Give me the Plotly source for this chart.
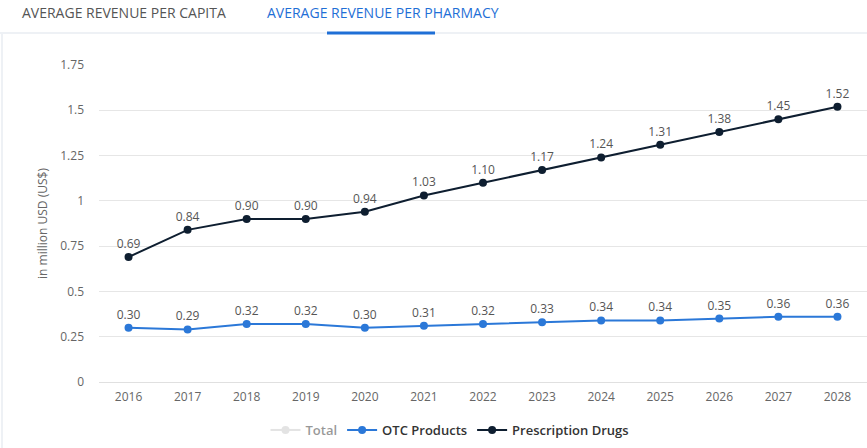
import plotly.graph_objects as go

# values
years = ['2016', '2017', '2018', '2019', '2020', '2021', '2022',
         '2023', '2024', '2025', '2026', '2027', '2028']
otc_products = [0.30, 0.29, 0.32, 0.32, 0.30, 0.31, 0.32,
                0.33, 0.34, 0.34, 0.35, 0.36, 0.36]
prescription_drugs = [0.69, 0.84, 0.90, 0.90, 0.94, 1.03, 1.10,
                      1.17, 1.24, 1.31, 1.38, 1.45, 1.52]
y_ticks = [0, 0.25, 0.5, 0.75, 1, 1.25, 1.5, 1.75]
y_tick_text = ['0', '0.25', '0.5', '0.75', '1', '1.25', '1.5', '1.75']

FONT = 'Open Sans, Noto Sans, sans-serif'

W, H = 867, 448

# plot area in screen pixels
L, R, T, B = 99, 867, 65, 382


def px_x(p):
    return (p - L) / (R - L)


def px_y(p):
    return (B - p) / (B - T)


fig = go.Figure()

fig.add_trace(go.Scatter(
    x=[None], y=[None], name='Total', mode='lines+markers',
    line=dict(color='#c8c8c8', width=2),
    marker=dict(color='#c8c8c8', size=8),
    visible='legendonly'
))

fig.add_trace(go.Scatter(
    x=years, y=otc_products, name='OTC Products',
    mode='lines+markers+text',
    line=dict(color='#2b78d8', width=2),
    marker=dict(color='#2b78d8', size=8),
    text=[f'{v:.2f}' for v in otc_products],
    textposition='top center',
    textfont=dict(family=FONT, size=12, color='#555'),
    cliponaxis=False
))

fig.add_trace(go.Scatter(
    x=years, y=prescription_drugs, name='Prescription Drugs',
    mode='lines+markers+text',
    line=dict(color='#0e1e30', width=2),
    marker=dict(color='#0e1e30', size=8),
    text=[f'{v:.2f}' for v in prescription_drugs],
    textposition='top center',
    textfont=dict(family=FONT, size=12, color='#555'),
    cliponaxis=False
))

fig.update_xaxes(
    type='category',
    range=[-0.5, 12.5],
    showgrid=False,
    showline=False,
    zeroline=False,
    ticks='',
    ticklabelstandoff=6,
    tickfont=dict(family=FONT, size=12, color='#666')
)

fig.update_yaxes(
    range=[0, 1.75],
    tickvals=y_ticks,
    ticktext=y_tick_text,
    showgrid=True,
    gridcolor='#e6e6e6',
    gridwidth=1,
    zeroline=True,
    zerolinecolor='#e0e0e0',
    zerolinewidth=1,
    ticks='',
    ticklabelstandoff=14,
    tickfont=dict(family=FONT, size=12, color='#666'),
    title=dict(text='in million USD (US$)',
               font=dict(family=FONT, size=12, color='#666'),
               standoff=10)
)

annotations = [
    dict(text='AVERAGE REVENUE PER CAPITA', xref='paper', yref='paper',
         x=px_x(20), y=px_y(13), xanchor='left', yanchor='middle',
         showarrow=False, font=dict(family=FONT, size=14, color='#555')),
    dict(text='AVERAGE REVENUE PER PHARMACY', xref='paper', yref='paper',
         x=px_x(265), y=px_y(13), xanchor='left', yanchor='middle',
         showarrow=False, font=dict(family=FONT, size=14, color='#1f6fd6')),
]

shapes = [
    dict(type='line', xref='paper', yref='paper',
         x0=px_x(0), x1=px_x(867), y0=px_y(33), y1=px_y(33),
         line=dict(color='#eef1f5', width=2)),
    dict(type='line', xref='paper', yref='paper',
         x0=px_x(327), x1=px_x(435), y0=px_y(33), y1=px_y(33),
         line=dict(color='#1f6fd6', width=3)),
    dict(type='line', xref='paper', yref='paper',
         x0=px_x(2), x1=px_x(2), y0=px_y(34), y1=px_y(448),
         line=dict(color='#eef1f5', width=2)),
]

fig.update_layout(
    width=W,
    height=H,
    margin=dict(l=L, r=W - R, t=T, b=H - B),
    paper_bgcolor='white',
    plot_bgcolor='white',
    font=dict(family=FONT, size=12, color='#333'),
    showlegend=True,
    legend=dict(
        orientation='h',
        x=px_x(450), y=px_y(430),
        xanchor='center', yanchor='middle',
        font=dict(family=FONT, size=13, color='#333', weight=600),
        itemwidth=30,
        traceorder='normal'
    ),
    annotations=annotations,
    shapes=shapes
)

# drop the default page margin so the figure fills the window exactly
fig.write_html("out.html",
               config={'displayModeBar': False},
               post_script="document.body.style.margin='0';"
                           "document.body.style.overflow='hidden';")
